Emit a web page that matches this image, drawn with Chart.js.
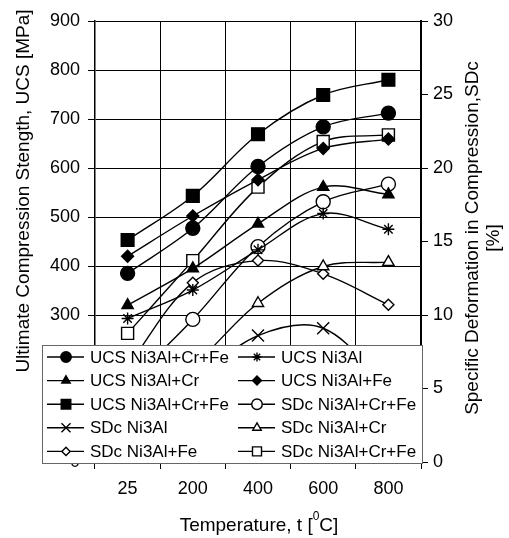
<!DOCTYPE html>
<html>
<head>
<meta charset="utf-8">
<script src="https://cdn.jsdelivr.net/npm/chart.js@4/dist/chart.umd.min.js"></script>
<style>
    html, body { margin: 0; padding: 0; background: #fff; }
    #wrap { width: 509px; height: 538px; }
</style>
</head>
<body>
<div id="wrap"><canvas id="chart"></canvas></div>
<script>
    'use strict';

    const temps = ['25', '200', '400', '600', '800'];

    const ucsCrFeA = [385, 477, 603, 684, 712];
    const ucsNi3Al = [293, 351, 433, 507, 475];
    const ucsCr = [320, 395, 486, 561, 546];
    const ucsFe = [420, 502, 576, 640, 659];
    const ucsCrFeB = [453, 543, 669, 749, 780];

    const sdcCrFeA = [5.3, 9.7, 14.65, 17.7, 18.9];
    const sdcNi3Al = [3, 5.5, 8.6, 9.1, 5];
    const sdcCr = [4, 6.6, 10.8, 13.3, 13.6];
    const sdcFe = [6.5, 12.2, 13.7, 12.8, 10.7];
    const sdcCrFeB = [8.75, 13.7, 18.7, 21.8, 22.25];

    const ucsTicks = { min: 0, max: 900, step: 100 };
    const sdcTicks = { min: 0, max: 30, step: 5 };

    const FONT = "'Liberation Sans', Arial, sans-serif";
    Chart.defaults.font.family = FONT;
    Chart.defaults.color = '#000';

    function series(label, data, axis, style, radius, filled) {
        return {
            label: label,
            data: data,
            yAxisID: axis,
            borderColor: '#000',
            borderWidth: 1.4,
            tension: 0.35,
            pointStyle: style,
            pointRadius: radius,
            pointBackgroundColor: filled ? '#000' : '#fff',
            pointBorderColor: '#000',
            pointBorderWidth: 1.4
        };
    }

    const datasets = [
        series('UCS Ni3Al+Cr+Fe', ucsCrFeA, 'y', 'circle', 7, true),
        series('UCS Ni3Al', ucsNi3Al, 'y', 'star', 6, true),
        series('UCS Ni3Al+Cr', ucsCr, 'y', 'triangle', 6.5, true),
        series('UCS Ni3Al+Fe', ucsFe, 'y', 'rectRot', 6, true),
        series('UCS Ni3Al+Cr+Fe', ucsCrFeB, 'y', 'rect', 9, true),
        series('SDc Ni3Al+Cr+Fe', sdcCrFeA, 'y1', 'circle', 7, false),
        series('SDc Ni3Al', sdcNi3Al, 'y1', 'crossRot', 8.5, false),
        series('SDc Ni3Al+Cr', sdcCr, 'y1', 'triangle', 6.5, false),
        series('SDc Ni3Al+Fe', sdcFe, 'y1', 'rectRot', 5.5, false),
        series('SDc Ni3Al+Cr+Fe', sdcCrFeB, 'y1', 'rect', 8.5, false)
    ];

    // legend box sits on top of the lower part of the plot, like in the original
    const legendBox = {
        id: 'legendBox',
        afterDraw(chart) {
            const ctx = chart.ctx;
            ctx.save();
            ctx.fillStyle = '#fff';
            ctx.fillRect(42, 345, 381, 119);
            ctx.strokeStyle = '#666';
            ctx.lineWidth = 1;
            ctx.strokeRect(42.5, 345.5, 380, 118);

            ctx.font = '17px ' + FONT;
            ctx.textBaseline = 'middle';
            ctx.textAlign = 'left';

            chart.data.datasets.forEach((ds, i) => {
                const col = i % 2;
                const row = Math.floor(i / 2);
                const x0 = col ? 238 : 47;
                const y = 357 + row * 23.6;

                ctx.strokeStyle = '#000';
                ctx.lineWidth = 1.4;
                ctx.beginPath();
                ctx.moveTo(x0, y);
                ctx.lineTo(x0 + 37, y);
                ctx.stroke();

                ctx.fillStyle = ds.pointBackgroundColor;
                ctx.strokeStyle = '#000';
                ctx.lineWidth = ds.pointBorderWidth;
                Chart.helpers.drawPoint(ctx, {
                    pointStyle: ds.pointStyle,
                    radius: ds.pointRadius * 0.75,
                    rotation: 0,
                    borderWidth: ds.pointBorderWidth
                }, x0 + 19, y);

                ctx.fillStyle = '#000';
                ctx.fillText(ds.label, x0 + 43, y + 1);
            });
            ctx.restore();
        }
    };

    const axisTitles = {
        id: 'axisTitles',
        afterDraw(chart) {
            const ctx = chart.ctx;
            ctx.save();
            ctx.fillStyle = '#000';
            ctx.font = '19px ' + FONT;
            ctx.textBaseline = 'alphabetic';
            ctx.textAlign = 'center';

            ctx.save();
            ctx.translate(29, 191);
            ctx.rotate(-Math.PI / 2);
            ctx.fillText('Ultimate Compression Stength, UCS [MPa]', 0, 0);
            ctx.restore();

            ctx.save();
            ctx.translate(478, 238);
            ctx.rotate(-Math.PI / 2);
            ctx.fillText('Specific Deformation in Compression,SDc', 0, 0);
            ctx.fillText('[%]', 0, 21);
            ctx.restore();

            const a = 'Temperature, t [';
            const b = 'C]';
            ctx.textAlign = 'left';
            const wa = ctx.measureText(a).width;
            const wb = ctx.measureText(b).width;
            ctx.font = '12px ' + FONT;
            const ws = ctx.measureText('0').width;
            let x = 259 - (wa + ws + wb) / 2;
            ctx.font = '19px ' + FONT;
            ctx.fillText(a, x, 531);
            x += wa;
            ctx.font = '12px ' + FONT;
            ctx.fillText('0', x, 520);
            x += ws;
            ctx.font = '19px ' + FONT;
            ctx.fillText(b, x, 531);
            ctx.restore();
        }
    };

    new Chart(document.getElementById('chart'), {
        type: 'line',
        data: {
            labels: temps,
            datasets: datasets
        },
        options: {
            responsive: true,
            maintainAspectRatio: false,
            animation: false,
            layout: {
                padding: { top: 21, left: 0, right: 0, bottom: 0 }
            },
            plugins: {
                legend: { display: false },
                tooltip: { enabled: false }
            },
            scales: {
                x: {
                    type: 'category',
                    offset: true,
                    grid: {
                        offset: true,
                        color: '#000',
                        lineWidth: 1,
                        tickLength: 7
                    },
                    border: { color: '#000', width: 1.5 },
                    ticks: {
                        font: { size: 18 },
                        padding: 9,
                        maxRotation: 0
                    },
                    afterFit(scale) {
                        scale.height = 76;
                    }
                },
                y: {
                    position: 'left',
                    min: ucsTicks.min,
                    max: ucsTicks.max,
                    ticks: {
                        stepSize: ucsTicks.step,
                        font: { size: 18 },
                        padding: 8
                    },
                    grid: { color: '#000', lineWidth: 1, tickLength: 7 },
                    border: { color: '#000', width: 1.5 },
                    afterFit(scale) {
                        scale.width = 95;
                    }
                },
                y1: {
                    position: 'right',
                    min: sdcTicks.min,
                    max: sdcTicks.max,
                    ticks: {
                        stepSize: sdcTicks.step,
                        font: { size: 18 },
                        padding: 5
                    },
                    grid: {
                        drawOnChartArea: false,
                        color: '#000',
                        lineWidth: 1,
                        tickLength: 7
                    },
                    border: { color: '#000', width: 2 },
                    afterFit(scale) {
                        scale.width = 88;
                    }
                }
            }
        },
        plugins: [legendBox, axisTitles]
    });
</script>
</body>
</html>
